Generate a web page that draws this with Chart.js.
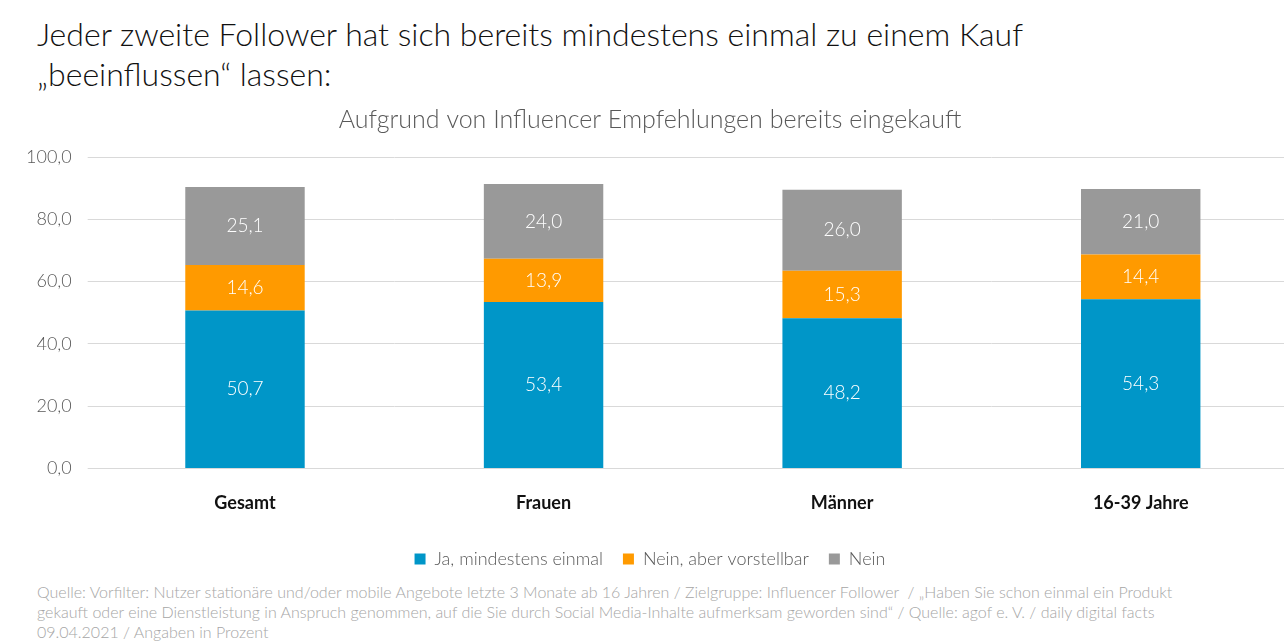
<!DOCTYPE html>
<html><head><meta charset="utf-8">
<script src="https://cdn.jsdelivr.net/npm/chart.js@4"></script>
<style>
body{margin:0;width:1284px;height:643px;overflow:hidden;background:#fff;font-family:Lato,"Open Sans",sans-serif;}
#title{position:absolute;left:37px;top:14px;font-size:32px;line-height:40px;color:#111;font-weight:300;}
#wrap{position:absolute;left:0;top:98px;width:1290px;height:480px;}
#foot{position:absolute;left:37px;top:582px;width:1160px;font-size:16px;line-height:20px;color:#a6a6a6;font-weight:300;}
</style></head><body>
<div id="title">Jeder zweite Follower hat sich bereits mindestens einmal zu einem Kauf<br>„beeinflussen“ lassen:</div>
<div id="wrap"><canvas id="c"></canvas></div>
<div id="foot">Quelle: Vorfilter: Nutzer stationäre und/oder mobile Angebote letzte 3 Monate ab 16 Jahren / Zielgruppe: Influencer Follower &nbsp;/ „Haben Sie schon einmal ein Produkt gekauft oder eine Dienstleistung in Anspruch genommen, auf die Sie durch Social Media-Inhalte aufmerksam geworden sind“ / Quelle: agof e. V. / daily digital facts 09.04.2021 / Angaben in Prozent</div>
<script>
"use strict";
const categories = ["Gesamt", "Frauen", "Männer", "16-39 Jahre"];
const jaValues = [50.7, 53.4, 48.2, 54.3];
const vorstellbarValues = [14.6, 13.9, 15.3, 14.4];
const neinValues = [25.1, 24.0, 26.0, 21.0];
const seriesNames = ["Ja, mindestens einmal", "Nein, aber vorstellbar", "Nein"];

const fmt = v => v.toFixed(1).replace(".", ",");

const valueLabels = {
    id: "valueLabels",
    afterDatasetsDraw(chart) {
        const ctx = chart.ctx;
        ctx.save();
        ctx.fillStyle = "#fff";
        ctx.font = "300 19px Lato";
        ctx.textAlign = "center";
        ctx.textBaseline = "middle";
        chart.data.datasets.forEach((ds, i) => {
            chart.getDatasetMeta(i).data.forEach((bar, j) => {
                ctx.fillText(fmt(ds.data[j]), bar.x, (bar.y + bar.base) / 2);
            });
        });
        ctx.restore();
    }
};

new Chart(document.getElementById("c"), {
    type: "bar",
    data: {
        labels: categories,
        datasets: [
            {label: seriesNames[0], data: jaValues, backgroundColor: "#0096c8"},
            {label: seriesNames[1], data: vorstellbarValues, backgroundColor: "#ff9a00"},
            {label: seriesNames[2], data: neinValues, backgroundColor: "#999999"}
        ]
    },
    options: {
        responsive: true,
        maintainAspectRatio: false,
        animation: false,
        layout: {padding: {left: 10, right: 0, top: 5, bottom: 0}},
        datasets: {bar: {categoryPercentage: 1, barPercentage: 0.4}},
        plugins: {
            title: {display: true, text: "Aufgrund von Influencer Empfehlungen bereits eingekauft",
                color: "#595959", font: {family: "Lato", size: 25, weight: 300}, padding: {top: 2, bottom: 22}},
            legend: {position: "bottom",
                labels: {boxWidth: 11, boxHeight: 11, color: "#595959", font: {family: "Lato", size: 18, weight: 300}, padding: 20}},
            tooltip: {enabled: false}
        },
        scales: {
            x: {stacked: true, grid: {display: false}, border: {color: "#d9d9d9"},
                ticks: {color: "#111", font: {family: "Lato", size: 18, weight: "bold"}, padding: 16}},
            y: {stacked: true, min: 0, max: 100,
                ticks: {stepSize: 20, color: "#595959", font: {family: "Lato", size: 18, weight: 300}, callback: v => fmt(v), padding: 16},
                grid: {color: "#d9d9d9"}, border: {display: false}}
        }
    },
    plugins: [valueLabels]
});
</script>
</body></html>
